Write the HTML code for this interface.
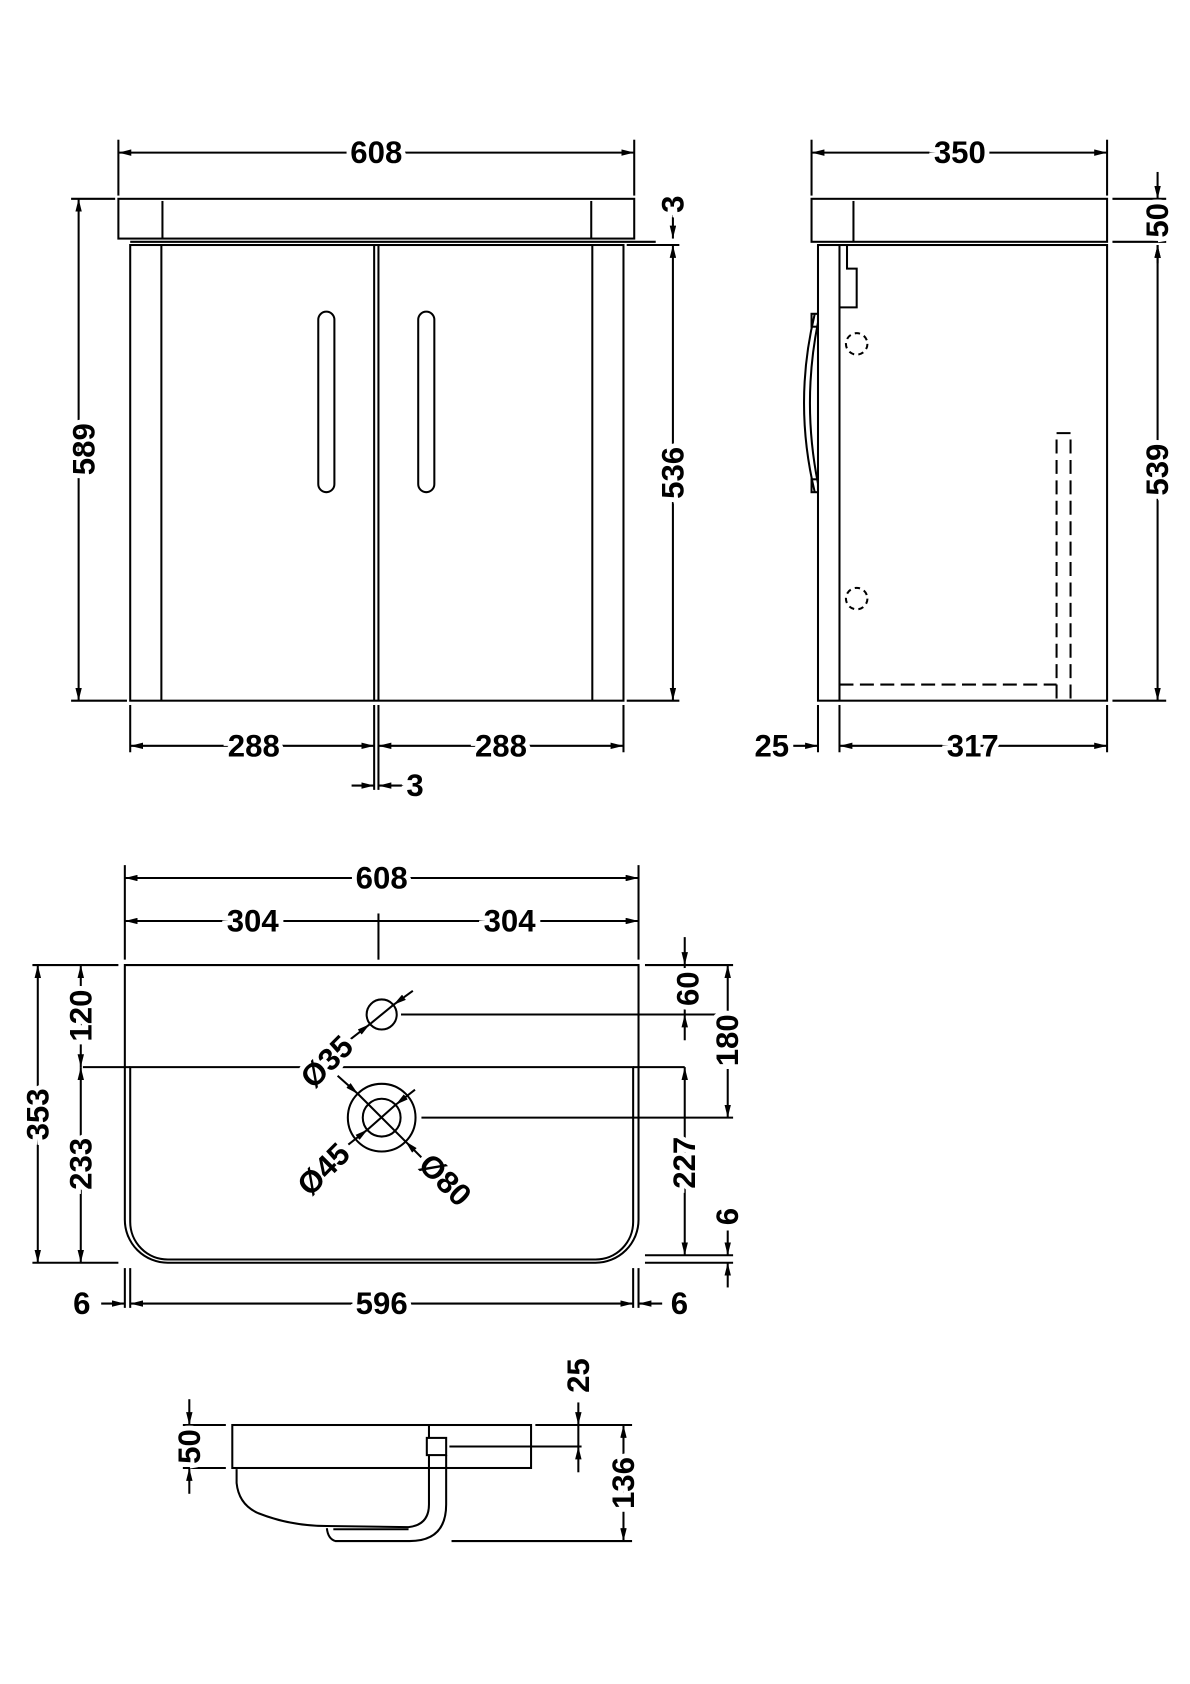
<!DOCTYPE html>
<html><head><meta charset="utf-8"><style>
html,body{margin:0;padding:0;background:#fff;}
svg{display:block;}
text{font-family:"Liberation Sans",sans-serif;font-weight:bold;font-size:29px;fill:#000;text-anchor:middle;dominant-baseline:central;paint-order:stroke;stroke:#fff;stroke-width:9px;}
</style></head><body>
<svg width="1190" height="1684" viewBox="0 0 1107 1567" xmlns="http://www.w3.org/2000/svg">
<defs>
<marker id="a" viewBox="0 0 12 6" refX="12" refY="3" markerWidth="12" markerHeight="6" markerUnits="userSpaceOnUse" orient="auto-start-reverse"><path d="M0,0 L12,3 L0,6 z" fill="#000"/></marker>
</defs>
<g fill="none" stroke="#000" stroke-width="1.9">
<!-- FRONT VIEW -->
<rect x="110" y="185" width="480" height="37"/>
<line x1="151" y1="187" x2="151" y2="222"/><line x1="550" y1="187" x2="550" y2="222"/>
<line x1="121" y1="225" x2="610" y2="225"/>
<rect x="121" y="228" width="459" height="424"/>
<line x1="150" y1="228" x2="150" y2="652"/><line x1="551" y1="228" x2="551" y2="652"/>
<line x1="348" y1="228" x2="348" y2="652"/><line x1="352" y1="228" x2="352" y2="652"/>
<rect x="296" y="290" width="15" height="168" rx="7.5"/>
<rect x="389" y="290" width="15" height="168" rx="7.5"/>
<line x1="110" y1="130" x2="110" y2="182"/><line x1="590" y1="130" x2="590" y2="182"/>
<line x1="110" y1="142" x2="590" y2="142" marker-start="url(#a)" marker-end="url(#a)"/>
<line x1="66" y1="185" x2="107" y2="185"/><line x1="66" y1="652" x2="118" y2="652"/>
<line x1="73" y1="185" x2="73" y2="652" marker-start="url(#a)" marker-end="url(#a)"/>
<line x1="583" y1="652" x2="632" y2="652"/><line x1="583" y1="228" x2="632" y2="228"/>
<line x1="626" y1="228" x2="626" y2="652" marker-start="url(#a)" marker-end="url(#a)"/>
<line x1="626" y1="200" x2="626" y2="222" marker-end="url(#a)"/>
<line x1="121" y1="656" x2="121" y2="700"/><line x1="580" y1="656" x2="580" y2="700"/>
<line x1="348" y1="656" x2="348" y2="735"/><line x1="352" y1="656" x2="352" y2="735"/>
<line x1="121" y1="694" x2="348" y2="694" marker-start="url(#a)" marker-end="url(#a)"/>
<line x1="352" y1="694" x2="580" y2="694" marker-start="url(#a)" marker-end="url(#a)"/>
<line x1="327" y1="731" x2="348" y2="731" marker-end="url(#a)"/>
<line x1="375" y1="731" x2="352" y2="731" marker-end="url(#a)"/>
<!-- SIDE VIEW -->
<rect x="755" y="185" width="275" height="40"/>
<line x1="794" y1="187" x2="794" y2="225"/>
<rect x="761" y="228" width="269" height="424"/>
<line x1="781" y1="228" x2="781" y2="652"/>
<polyline points="781,228 788,228 788,250 797,250 797,286 781,286"/>
<path d="M758,292 Q738,375 758,458"/>
<path d="M761,300 Q746,375 761,450"/>
<rect x="755" y="292" width="6" height="12"/><rect x="755" y="446" width="6" height="12"/>
<g stroke-dasharray="13,6">
<polyline points="983,650 983,403 996,403 996,652"/>
<polyline points="781,637 983,637"/>
</g>
<g stroke-dasharray="5,4">
<circle cx="797" cy="320" r="10"/><circle cx="797" cy="557" r="10"/>
</g>
<line x1="755" y1="130" x2="755" y2="182"/><line x1="1030" y1="130" x2="1030" y2="182"/>
<line x1="755" y1="142" x2="1030" y2="142" marker-start="url(#a)" marker-end="url(#a)"/>
<line x1="1035" y1="185" x2="1085" y2="185"/><line x1="1035" y1="225" x2="1085" y2="225"/>
<line x1="1035" y1="652" x2="1085" y2="652"/>
<line x1="1077" y1="160" x2="1077" y2="185" marker-end="url(#a)"/>
<line x1="1077" y1="245" x2="1077" y2="228" marker-end="url(#a)"/>
<line x1="1077" y1="228" x2="1077" y2="652" marker-start="url(#a)" marker-end="url(#a)"/>
<line x1="761" y1="656" x2="761" y2="700"/><line x1="781" y1="656" x2="781" y2="700"/><line x1="1030" y1="656" x2="1030" y2="700"/>
<line x1="738" y1="694" x2="761" y2="694" marker-end="url(#a)"/>
<line x1="781" y1="694" x2="1030" y2="694" marker-start="url(#a)" marker-end="url(#a)"/>
<!-- PLAN VIEW -->
<path d="M116,898 L594,898 L594,1135 A40,40 0 0 1 554,1175 L156,1175 A40,40 0 0 1 116,1135 Z"/>
<path d="M121,993 L589,993 L589,1137 A35,35 0 0 1 554,1172 L156,1172 A35,35 0 0 1 121,1137 Z"/>
<line x1="77" y1="993" x2="121" y2="993"/><line x1="589" y1="993" x2="637" y2="993"/>
<circle cx="355" cy="944" r="14"/>
<circle cx="355" cy="1040" r="31.5"/><circle cx="355" cy="1040" r="17.6"/>
<line x1="373" y1="944" x2="670" y2="944"/><line x1="392" y1="1040" x2="682" y2="1040"/>
<line x1="384" y1="922" x2="366" y2="935" marker-end="url(#a)"/>
<line x1="326" y1="967" x2="344" y2="953" marker-end="url(#a)"/>
<line x1="366" y1="935" x2="344" y2="953"/>
<line x1="386" y1="1014" x2="368" y2="1028" marker-end="url(#a)"/>
<line x1="324" y1="1065" x2="342" y2="1051" marker-end="url(#a)"/>
<line x1="368" y1="1028" x2="342" y2="1051"/>
<line x1="314" y1="1001" x2="333" y2="1018" marker-end="url(#a)"/>
<line x1="393" y1="1078" x2="377" y2="1062" marker-end="url(#a)"/>
<line x1="333" y1="1018" x2="377" y2="1062"/>
<line x1="116" y1="805" x2="116" y2="893"/><line x1="594" y1="805" x2="594" y2="893"/>
<line x1="116" y1="817" x2="594" y2="817" marker-start="url(#a)" marker-end="url(#a)"/>
<line x1="116" y1="857" x2="594" y2="857" marker-start="url(#a)" marker-end="url(#a)"/>
<line x1="352" y1="850" x2="352" y2="893"/>
<line x1="30" y1="898" x2="110" y2="898"/><line x1="30" y1="1175" x2="110" y2="1175"/>
<line x1="35" y1="898" x2="35" y2="1175" marker-start="url(#a)" marker-end="url(#a)"/>
<line x1="75" y1="898" x2="75" y2="993" marker-start="url(#a)" marker-end="url(#a)"/>
<line x1="75" y1="993" x2="75" y2="1175" marker-start="url(#a)" marker-end="url(#a)"/>
<line x1="600" y1="898" x2="682" y2="898"/>
<line x1="637" y1="872" x2="637" y2="898" marker-end="url(#a)"/>
<line x1="637" y1="968" x2="637" y2="944" marker-end="url(#a)"/>
<line x1="637" y1="898" x2="637" y2="944"/>
<line x1="677" y1="898" x2="677" y2="1040" marker-start="url(#a)" marker-end="url(#a)"/>
<line x1="637" y1="993" x2="637" y2="1168" marker-start="url(#a)" marker-end="url(#a)"/>
<line x1="600" y1="1168" x2="682" y2="1168"/><line x1="600" y1="1175" x2="682" y2="1175"/>
<line x1="677" y1="1145" x2="677" y2="1168" marker-end="url(#a)"/>
<line x1="677" y1="1198" x2="677" y2="1175" marker-end="url(#a)"/>
<line x1="116" y1="1180" x2="116" y2="1217"/><line x1="121" y1="1180" x2="121" y2="1217"/>
<line x1="589" y1="1180" x2="589" y2="1217"/><line x1="594" y1="1180" x2="594" y2="1217"/>
<line x1="121" y1="1213" x2="589" y2="1213" marker-start="url(#a)" marker-end="url(#a)"/>
<line x1="94" y1="1213" x2="116" y2="1213" marker-end="url(#a)"/>
<line x1="616" y1="1213" x2="594" y2="1213" marker-end="url(#a)"/>
<!-- SECTION -->
<rect x="216" y="1326" width="278" height="40"/>
<line x1="399" y1="1326" x2="399" y2="1338"/>
<rect x="397" y="1338" width="18" height="16"/>
<line x1="418" y1="1346" x2="541" y2="1346"/>
<path d="M220,1367 L220,1380 Q222,1400 240,1408 Q270,1420 304,1420 L380,1421 Q399,1419 399,1400 L399,1354"/>
<path d="M415,1354 L415,1400 Q415,1434 381,1434 L312,1434 Q305,1432 304,1422"/>
<line x1="310" y1="1423" x2="380" y2="1423"/>
<line x1="170" y1="1326" x2="210" y2="1326"/><line x1="170" y1="1366" x2="210" y2="1366"/>
<line x1="176" y1="1302" x2="176" y2="1326" marker-end="url(#a)"/>
<line x1="176" y1="1390" x2="176" y2="1366" marker-end="url(#a)"/>
<line x1="498" y1="1326" x2="588" y2="1326"/>
<line x1="538" y1="1305" x2="538" y2="1326" marker-end="url(#a)"/>
<line x1="538" y1="1370" x2="538" y2="1346" marker-end="url(#a)"/>
<line x1="538" y1="1326" x2="538" y2="1346"/>
<line x1="420" y1="1434" x2="588" y2="1434"/>
<line x1="580" y1="1326" x2="580" y2="1434" marker-start="url(#a)" marker-end="url(#a)"/>
</g>
<text x="350" y="142">608</text>
<text x="78" y="418" transform="rotate(-90 78 418)">589</text>
<text x="626" y="440" transform="rotate(-90 626 440)">536</text>
<text x="626" y="190" transform="rotate(-90 626 190)">3</text>
<text x="236" y="694">288</text>
<text x="466" y="694">288</text>
<text x="386" y="731">3</text>
<text x="893" y="142">350</text>
<text x="1077" y="205" transform="rotate(-90 1077 205)">50</text>
<text x="1077" y="437" transform="rotate(-90 1077 437)">539</text>
<text x="718" y="694">25</text>
<text x="905" y="694">317</text>
<text x="355" y="817">608</text>
<text x="235" y="857">304</text>
<text x="474" y="857">304</text>
<text x="35" y="1037" transform="rotate(-90 35 1037)">353</text>
<text x="75" y="945" transform="rotate(-90 75 945)">120</text>
<text x="75" y="1083" transform="rotate(-90 75 1083)">233</text>
<text x="640" y="920" transform="rotate(-90 640 920)">60</text>
<text x="677" y="968" transform="rotate(-90 677 968)">180</text>
<text x="637" y="1082" transform="rotate(-90 637 1082)">227</text>
<text x="677" y="1132" transform="rotate(-90 677 1132)">6</text>
<text x="76" y="1213">6</text>
<text x="355" y="1213">596</text>
<text x="632" y="1213">6</text>
<text x="304" y="988" transform="rotate(-45 304 988)">Ø35</text>
<text x="301" y="1088" transform="rotate(-45 301 1088)">Ø45</text>
<text x="414" y="1098" transform="rotate(45 414 1098)">Ø80</text>
<text x="176" y="1346" transform="rotate(-90 176 1346)">50</text>
<text x="538" y="1280" transform="rotate(-90 538 1280)">25</text>
<text x="580" y="1380" transform="rotate(-90 580 1380)">136</text>
</svg>
</body></html>
